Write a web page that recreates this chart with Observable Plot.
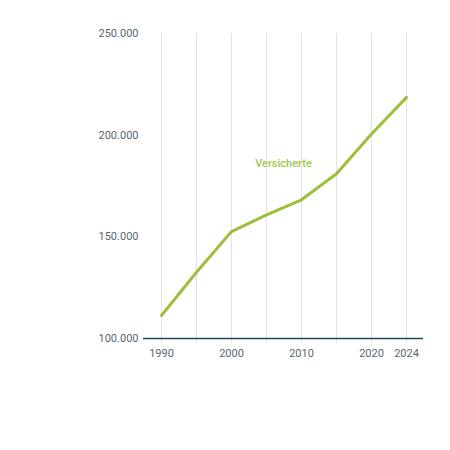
<!DOCTYPE html>
<html>
<head>
<meta charset="utf-8">
<script src="https://cdn.jsdelivr.net/npm/d3@7"></script>
<script src="https://cdn.jsdelivr.net/npm/@observablehq/plot@0.6"></script>
<style>
  html, body { margin: 0; padding: 0; background: #fff; }
  #chart { width: 450px; height: 450px; }
</style>
</head>
<body>
<div id="chart"></div>
<script>
const years = ["1990", "1995", "2000", "2005", "2010", "2015", "2020", "2024"];
const versicherte = [111300, 132600, 152600, 160800, 168200, 181000, 200600, 218600];
const xTickLabels = ["1990", "2000", "2010", "2020", "2024"];
const yTicks = [100000, 150000, 200000, 250000];
const seriesLabel = "Versicherte";
const labelYear = "2005";
const labelValue = 186000;

const data = years.map((y, i) => ({year: y, value: versicherte[i]}));
const fmt = d => d3.format(",")(d).replace(/,/g, ".");

const chart = Plot.plot({
  width: 450,
  height: 450,
  marginTop: 33,
  marginBottom: 112,
  marginLeft: 143,
  marginRight: 27,
  style: {fontFamily: "Roboto, 'Noto Sans', sans-serif", fontSize: "11px", color: "#4b5f66", background: "#fff"},
  x: {type: "point", domain: years, padding: 0.5},
  y: {domain: [100000, 250000]},
  marks: [
    Plot.ruleX(years, {x: d => d, y1: 250000, y2: 100000, insetBottom: -5, stroke: "#e2e2e2", strokeWidth: 1}),
    Plot.ruleY([100000], {stroke: "#1d4b50", strokeWidth: 1.6}),
    Plot.axisY({ticks: yTicks, tickFormat: fmt, tickSize: 0, tickPadding: 5, label: null, fill: "#56686f"}),
    Plot.axisX({ticks: xTickLabels, tickSize: 0, tickPadding: 11, label: null, fill: "#56686f"}),
    Plot.line(data, {x: "year", y: "value", stroke: "#9dbf3c", strokeWidth: 3}),
    Plot.text([{year: labelYear, value: labelValue, t: seriesLabel}], {x: "year", y: "value", text: "t", dx: 17, fill: "#a6c64c", fontSize: 11, fontWeight: 500})
  ]
});
document.getElementById("chart").appendChild(chart);
</script>
</body>
</html>
